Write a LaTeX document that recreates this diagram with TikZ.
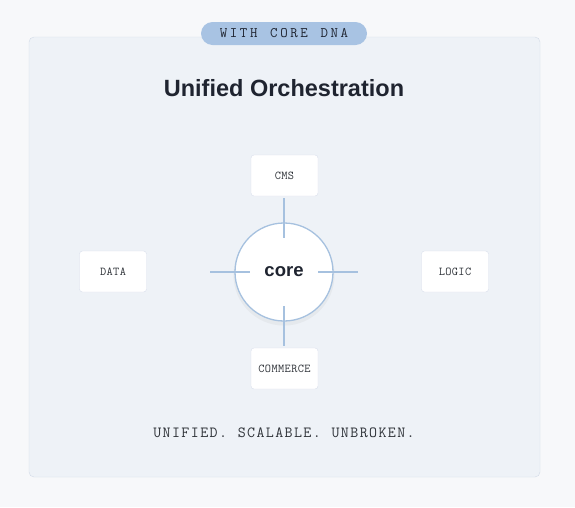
\documentclass[tikz,border=0pt]{standalone}
\usepackage{fontspec}
\setmainfont{Liberation Sans}
\usetikzlibrary{shadows}
\definecolor{pagebg}{HTML}{F7F8FA}
\definecolor{panelbg}{HTML}{EEF2F7}
\definecolor{panelline}{HTML}{D3DBE8}
\definecolor{badgebg}{HTML}{A8C3E3}
\definecolor{spokeblue}{HTML}{A6C1DF}
\definecolor{boxline}{HTML}{D9DFEC}
\definecolor{inkdark}{HTML}{1F2430}
\definecolor{inkgrey}{HTML}{2E3238}
% letter spaced text
\newcommand\tracked[2]{\def\trackkern{#1}\trackloop#2\relax}
\def\trackloop#1{\ifx#1\relax\unkern\else#1\kern\trackkern\expandafter\trackloop\fi}
\begin{document}
\begin{tikzpicture}[x=1pt,y=-1pt,
  part/.style={rectangle,draw=boxline,fill=white,rounded corners=3pt,minimum width=67pt,minimum height=41pt,inner sep=0pt,text=inkgrey,font=\ttfamily\fontsize{12}{13}\selectfont},
  corenode/.style={circle,draw=spokeblue,line width=1.3pt,fill=white,minimum size=98pt,inner sep=0pt,text=inkdark,font=\bfseries\fontsize{18.5}{20}\selectfont,drop shadow={opacity=0.08,shadow xshift=0pt,shadow yshift=-3pt,shadow scale=1.03}},
  spoke/.style={draw=spokeblue,line width=1.2pt}]
% Page and panel
\fill[pagebg] (0,0) rectangle (575,507);
\draw[draw=panelline,fill=panelbg,rounded corners=5pt] (29,37) rectangle (540,477);
% Badge and title
\draw (284,33.5) node(nbadge)[rectangle,fill=badgebg,rounded corners=11.5pt,minimum width=166pt,minimum height=23pt,inner sep=0pt,text=inkdark,font=\ttfamily\fontsize{14.5}{15}\selectfont] {\tracked{2.6pt}{WITH~CORE~DNA}};
\draw (284,88) node(ntitle)[text=inkdark,font=\bfseries\fontsize{23.5}{25}\selectfont] {Unified Orchestration};
% Core
\draw (284,272) node(nc)[corenode] {core};
% Parts
\draw (284.5,175.5) node(ncms)[part] {\tracked{0.4pt}{CMS}} +(0,193) node(ncom)[part] {\tracked{0.4pt}{COMMERCE}};
\draw (113,271.5) node(ndata)[part] {\tracked{0.4pt}{DATA}} +(342,0) node(nlogic)[part] {\tracked{0.4pt}{LOGIC}};
% Spokes
\coordinate (t1) at (284,198); \coordinate (t2) at (284,238);
\coordinate (b1) at (284,306); \coordinate (b2) at (284,346);
\coordinate (l1) at (210,272); \coordinate (l2) at (250,272);
\coordinate (r1) at (318,272); \coordinate (r2) at (358,272);
\draw[spoke] (t1) -- (t2);
\draw[spoke] (b1) -- (b2);
\draw[spoke] (l1) -- (l2);
\draw[spoke] (r1) -- (r2);
% Footer
\draw (284,433) node(nfoot)[text=inkgrey,font=\ttfamily\fontsize{15.5}{16}\selectfont] {\tracked{1.4pt}{UNIFIED.~SCALABLE.~UNBROKEN.}};
\end{tikzpicture}
\end{document}
